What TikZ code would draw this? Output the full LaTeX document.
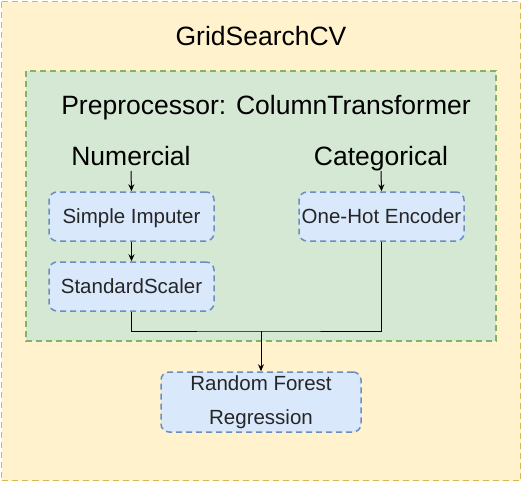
\documentclass[tikz,border=0pt]{standalone}
\usepackage{fontspec}
\setmainfont{Liberation Sans}
\usetikzlibrary{arrows.meta,positioning}
\definecolor{outerfill}{HTML}{FFF2CC}
\definecolor{outerdraw}{HTML}{D6B656}
\definecolor{greenfill}{HTML}{D5E8D4}
\definecolor{greendraw}{HTML}{82B366}
\definecolor{bluefill}{HTML}{DAE8FC}
\definecolor{bluedraw}{HTML}{6C8EBF}
\tikzset{
  dashline/.style={line width=1.5pt, dash pattern=on 6pt off 4pt},
  stepbox/.style={draw=bluedraw, fill=bluefill, dashline, rounded corners=8pt,
    minimum width=165pt, minimum height=49pt, inner sep=0pt,
    font=\fontsize{20.5}{24}\selectfont, text=black!85,
    text height=14.7pt, text depth=0pt},
  biglabel/.style={font=\fontsize{26.5}{30}\selectfont, inner sep=0pt, text=black, anchor=base},
  conn/.style={line width=1pt, black},
  arr/.style={conn, -{Stealth[length=7pt,width=6pt]}},
}
\begin{document}
\begin{tikzpicture}[x=1pt,y=-1pt]
\useasboundingbox (0,0) rectangle (522,482);
\draw[draw=outerdraw, fill=outerfill, dashline] (1.5,1.5) rectangle (520.5,480.5);
\node[biglabel] (grid) at (261,45) {GridSearchCV};
\draw[draw=greendraw, fill=greenfill, dashline] (26,71) rectangle (496,341);
\node[biglabel] (pre) at (266,114) {Preprocessor: ColumnTransformer};
\node[biglabel] (num) at (131,165) {Numercial};
\node[biglabel] (cat) at (381,165) {Categorical};
\node[stepbox] (imp) at (131.5,216.5) {Simple Imputer};
\node[stepbox] (ss) at (131.5,286.5) {StandardScaler};
\node[stepbox] (ohe) at (381.5,216.5) {One-Hot Encoder};
\node[stepbox, minimum width=200pt, minimum height=60pt, align=center,
  text height=, text depth=,
  font=\fontsize{20.5}{34}\selectfont] (rfr) at (261,402) {Random Forest\\Regression};
\coordinate (numb) at (131,171);
\coordinate (catb) at (381,171);
\draw[arr] (numb) -- (imp.north);
\draw[arr] (catb) -- (ohe.north);
\draw[arr] (imp.south) -- (ss.north);
\coordinate (j) at (261,331);
\draw[conn] (ss.south) |- (j) -| (ohe.south);
\draw[arr] (j) -- (rfr.north);
\end{tikzpicture}
\end{document}
